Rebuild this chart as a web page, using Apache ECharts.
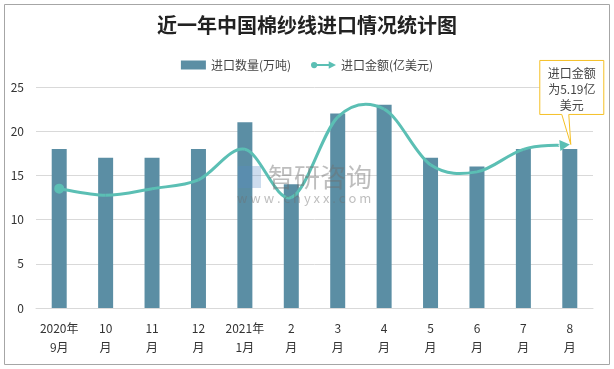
<!DOCTYPE html>
<html>
<head>
<meta charset="utf-8">
<script src="https://cdn.jsdelivr.net/npm/echarts@6/dist/echarts.min.js"></script>
<style>html,body{margin:0;padding:0;background:#fff;}#c{width:614px;height:369px;}</style>
</head>
<body>
<div id="c"></div>
<script>
var categories = ['2020年\n9月','10\n月','11\n月','12\n月','2021年\n1月','2\n月','3\n月','4\n月','5\n月','6\n月','7\n月','8\n月'];
var volumeValues = [18,17,17,18,21,14,22,23,17,16,18,18];
var amountValues = [13.5,12.75,13.5,14.5,17.95,12.5,21.6,22.5,16.2,15.4,17.95,18.5];
var yTicks = [0,5,10,15,20,25];
var calloutLines = ['进口金额','为5.19亿','美元'];

var FONT = '"Noto Sans CJK SC", "Microsoft YaHei", sans-serif';
var lineColor = '#5BBFB4';
var barColor = '#5B8EA4';
var lastIdx = amountValues.length - 1;

// Excel-like spline (Catmull-Rom) drawn through points converted by the chart's own axes
function renderSpline(params, api) {
  if (params.dataIndex !== 0) return { type: 'group', children: [] };
  var pts = amountValues.map(function (v, i) { return api.coord([i, v]); });
  var n = pts.length;
  var children = [];
  var arrowLen = 10, arrowHalf = 5.5;
  var last = pts[n - 1], prev = pts[n - 2];
  var dx = last[0] - prev[0], dy = last[1] - prev[1];
  var d = Math.sqrt(dx * dx + dy * dy); dx /= d; dy /= d;
  var base = [last[0] - dx * arrowLen, last[1] - dy * arrowLen];
  for (var i = 0; i < n - 1; i++) {
    var p0 = pts[Math.max(0, i - 1)], p1 = pts[i], p2 = pts[i + 1], p3 = pts[Math.min(n - 1, i + 2)];
    var end = (i === n - 2) ? base : p2;
    children.push({
      type: 'bezierCurve',
      shape: {
        x1: p1[0], y1: p1[1], x2: end[0], y2: end[1],
        cpx1: p1[0] + (p2[0] - p0[0]) / 6, cpy1: p1[1] + (p2[1] - p0[1]) / 6,
        cpx2: p2[0] - (p3[0] - p1[0]) / 6, cpy2: p2[1] - (p3[1] - p1[1]) / 6
      },
      style: { stroke: lineColor, lineWidth: 3, fill: null }
    });
  }
  children.push({ type: 'circle', shape: { cx: pts[0][0], cy: pts[0][1], r: 5 }, style: { fill: lineColor } });
  children.push({
    type: 'polygon',
    shape: { points: [last, [base[0] - dy * arrowHalf, base[1] + dx * arrowHalf], [base[0] + dy * arrowHalf, base[1] - dx * arrowHalf]] },
    style: { fill: lineColor }
  });
  return { type: 'group', children: children };
}

var chart = echarts.init(document.getElementById('c'), null, { renderer: 'canvas' });
var option = {
  animation: false,
  backgroundColor: '#fff',
  title: {
    text: '近一年中国棉纱线进口情况统计图',
    left: 'center', top: 10,
    textStyle: { fontFamily: FONT, fontSize: 20, fontWeight: 'bold', color: '#222' }
  },
  legend: {
    top: 54, left: 'center', itemGap: 20,
    textStyle: { fontFamily: FONT, fontSize: 12, color: '#444' },
    data: [
      { name: '进口数量(万吨)', icon: 'rect', itemStyle: { color: barColor } },
      { name: '进口金额(亿美元)', icon: 'path://M0,4A3,3,0,1,1,6,4A3,3,0,1,1,0,4Z M5,3L17,3L17,0.5L24,4L17,7.5L17,5L5,5Z', itemStyle: { color: lineColor } }
    ],
    itemWidth: 25, itemHeight: 9
  },
  grid: { left: 36, right: 21, top: 87, bottom: 61 },
  xAxis: {
    type: 'category',
    data: categories,
    axisTick: { show: false },
    axisLine: { lineStyle: { color: '#d9d9d9' } },
    axisLabel: { fontFamily: FONT, fontSize: 12, color: '#333', lineHeight: 19, margin: 11, interval: 0 }
  },
  yAxis: {
    type: 'value', min: yTicks[0], max: yTicks[yTicks.length - 1], interval: 5,
    axisLine: { show: false }, axisTick: { show: false },
    splitLine: { lineStyle: { color: '#d9d9d9', width: 1 } },
    axisLabel: { fontFamily: FONT, fontSize: 12, color: '#333', margin: 12 }
  },
  series: [
    {
      name: '进口数量(万吨)', type: 'bar', data: volumeValues, barWidth: 15,
      itemStyle: { color: barColor }
    },
    {
      name: '进口金额(亿美元)', type: 'custom', renderItem: renderSpline,
      data: amountValues.map(function (v, i) { return [i, v]; }),
      encode: { x: 0, y: 1 },
      itemStyle: { color: lineColor }, z: 3
    }
  ]
};
chart.setOption(option);

// Callout anchored to the last point via the library's coordinate conversion
var tip = chart.convertToPixel({ xAxisIndex: 0, yAxisIndex: 0 }, [lastIdx, amountValues[lastIdx]]);
var bx = tip[0] - 30, by = tip[1] - 84, bw = 64, bh = 54;
var calloutShape = [
  [bx, by], [bx + bw, by], [bx + bw, by + bh],
  [tip[0] - 1, by + bh], [tip[0] + 1, tip[1]], [tip[0] - 8, by + bh], [bx, by + bh]
];
chart.setOption({
  graphic: [
    { type: 'rect', shape: { x: 4.5, y: 4.5, width: 605, height: 360 }, style: { fill: null, stroke: '#a6a6a6', lineWidth: 1 }, silent: true, z: 100 },
    { type: 'polygon', shape: { points: calloutShape }, style: { fill: '#fff', stroke: '#F5C026', lineWidth: 1 }, z: 100 },
    { type: 'text', x: bx + bw / 2, y: by + 5, style: { text: calloutLines.join('\n'), fill: '#444', font: '12px ' + FONT, align: 'center', verticalAlign: 'top', lineHeight: 16 }, z: 101 },
    { type: 'text', x: 268, y: 177, style: { text: '智研咨询', fill: 'rgba(110,110,110,0.45)', font: '26px ' + FONT, align: 'left', verticalAlign: 'middle' }, z: 50 },
    { type: 'text', x: 237, y: 198, style: { text: 'w w w . c h y x x . c o m', fill: 'rgba(110,110,110,0.45)', font: '13px ' + FONT, align: 'left', verticalAlign: 'middle' }, z: 50 },
    { type: 'rect', shape: { x: 238, y: 166, width: 23, height: 22 }, style: { fill: 'rgba(90,140,200,0.3)' }, z: 50 }
  ]
});
</script>
</body>
</html>
